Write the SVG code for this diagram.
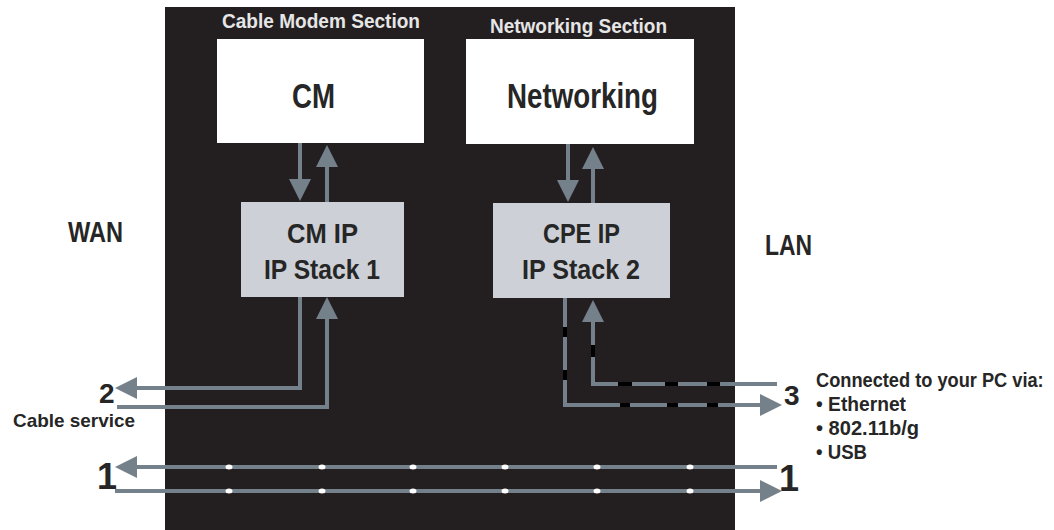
<svg xmlns="http://www.w3.org/2000/svg" width="1054" height="530" viewBox="0 0 1054 530">
<defs>
<style>
text{font-family:"Liberation Sans",Arial,sans-serif;font-weight:bold;fill:#262626}
.title{fill:#e6e6e6;font-size:20px}
.big{font-size:35px}
.mid{font-size:28px}
.lab{font-size:30px}
.sm{font-size:19px}
.pc{font-size:21px}
.box{fill:#ffffff}
.ip{fill:#cdd0d6}
.con{fill:none;stroke:#74818a;stroke-width:4;stroke-linejoin:miter}
.dash{fill:none;stroke:#000;stroke-width:4}
.dot{fill:#ffffff}
</style>
<marker id="ah" markerUnits="userSpaceOnUse" markerWidth="22" markerHeight="22" viewBox="0 0 22 22" refX="8" refY="11" orient="auto">
<path d="M0,0 L22,11 L0,22 z" fill="#74818a"/>
</marker>
</defs>
<rect width="1054" height="530" fill="#ffffff"/>
<g id="device">
<rect x="165" y="7" width="570" height="523" fill="#231f20"/>
<text class="title" x="222" y="28" textLength="198" lengthAdjust="spacingAndGlyphs">Cable Modem Section</text>
<text class="title" x="490" y="33" textLength="177" lengthAdjust="spacingAndGlyphs">Networking Section</text>
</g>
<g id="cm">
<rect class="box" x="217" y="39" width="207" height="104"/>
<text class="big" x="292" y="108" textLength="43" lengthAdjust="spacingAndGlyphs">CM</text>
</g>
<g id="networking">
<rect class="box" x="466" y="39" width="228" height="105"/>
<text class="big" x="507" y="108" textLength="151" lengthAdjust="spacingAndGlyphs">Networking</text>
</g>
<g id="cmip">
<rect class="ip" x="241" y="202" width="163" height="95"/>
<text class="mid" x="287" y="243" textLength="71" lengthAdjust="spacingAndGlyphs">CM IP</text>
<text class="mid" x="264" y="279" textLength="116" lengthAdjust="spacingAndGlyphs">IP Stack 1</text>
</g>
<g id="cpeip">
<rect class="ip" x="493" y="203" width="177" height="95"/>
<text class="mid" x="543" y="243" textLength="77" lengthAdjust="spacingAndGlyphs">CPE IP</text>
<text class="mid" x="522" y="279" textLength="118" lengthAdjust="spacingAndGlyphs">IP Stack 2</text>
</g>
<g id="labels">
<text class="lab" x="68" y="242" textLength="55" lengthAdjust="spacingAndGlyphs">WAN</text>
<text class="lab" x="765" y="255" textLength="47" lengthAdjust="spacingAndGlyphs">LAN</text>
<text class="mid" x="99" y="403">2</text>
<text class="sm" x="13" y="427" textLength="122" lengthAdjust="spacingAndGlyphs">Cable service</text>
<text style="font-size:36px" x="97" y="489">1</text>
<text style="font-size:36px" x="779" y="491">1</text>
<text class="mid" x="784" y="405">3</text>
<text class="pc" transform="translate(816,387) scale(0.869,1)" x="0" y="0" textLength="262" lengthAdjust="spacingAndGlyphs">Connected to your PC via:</text>
<text class="pc" x="816" y="411" textLength="90" lengthAdjust="spacingAndGlyphs">• Ethernet</text>
<text class="pc" x="816" y="435" textLength="103" lengthAdjust="spacingAndGlyphs">• 802.11b/g</text>
<text class="pc" x="816" y="459" textLength="51" lengthAdjust="spacingAndGlyphs">• USB</text>
</g>
<g id="connectors">
<path class="con" d="M300,143 V187" marker-end="url(#ah)"/>
<path class="con" d="M327,202 V159" marker-end="url(#ah)"/>
<path class="con" d="M568,144 V188" marker-end="url(#ah)"/>
<path class="con" d="M593,203 V161" marker-end="url(#ah)"/>
<path class="con" d="M300,297 V388 H129" marker-end="url(#ah)"/>
<path class="con" d="M117,407 H327 V311" marker-end="url(#ah)"/>
<path class="con" d="M565,298 V405 H768" marker-end="url(#ah)"/>
<path class="con" d="M777,384 H593 V314" marker-end="url(#ah)"/>
<path class="dash" d="M565,327 V337 M565,370 V380 M620,405 H630 M667,405 H678 M707,405 H718 M593,345 V357 M618,384 H632 M665,384 H678 M707,384 H720"/>
<path class="con" d="M777,467 H129" marker-end="url(#ah)"/>
<path class="con" d="M115,491 H768" marker-end="url(#ah)"/>
<g id="dots">
<ellipse class="dot" cx="229" cy="467" rx="3.5" ry="2.5"/>
<ellipse class="dot" cx="322" cy="467" rx="3.5" ry="2.5"/>
<ellipse class="dot" cx="413" cy="467" rx="3.5" ry="2.5"/>
<ellipse class="dot" cx="505" cy="467" rx="3.5" ry="2.5"/>
<ellipse class="dot" cx="597" cy="467" rx="3.5" ry="2.5"/>
<ellipse class="dot" cx="690" cy="467" rx="3.5" ry="2.5"/>
<ellipse class="dot" cx="229" cy="491" rx="3.5" ry="2.5"/>
<ellipse class="dot" cx="322" cy="491" rx="3.5" ry="2.5"/>
<ellipse class="dot" cx="413" cy="491" rx="3.5" ry="2.5"/>
<ellipse class="dot" cx="505" cy="491" rx="3.5" ry="2.5"/>
<ellipse class="dot" cx="597" cy="491" rx="3.5" ry="2.5"/>
<ellipse class="dot" cx="690" cy="491" rx="3.5" ry="2.5"/>
</g>
</g>
</svg>
